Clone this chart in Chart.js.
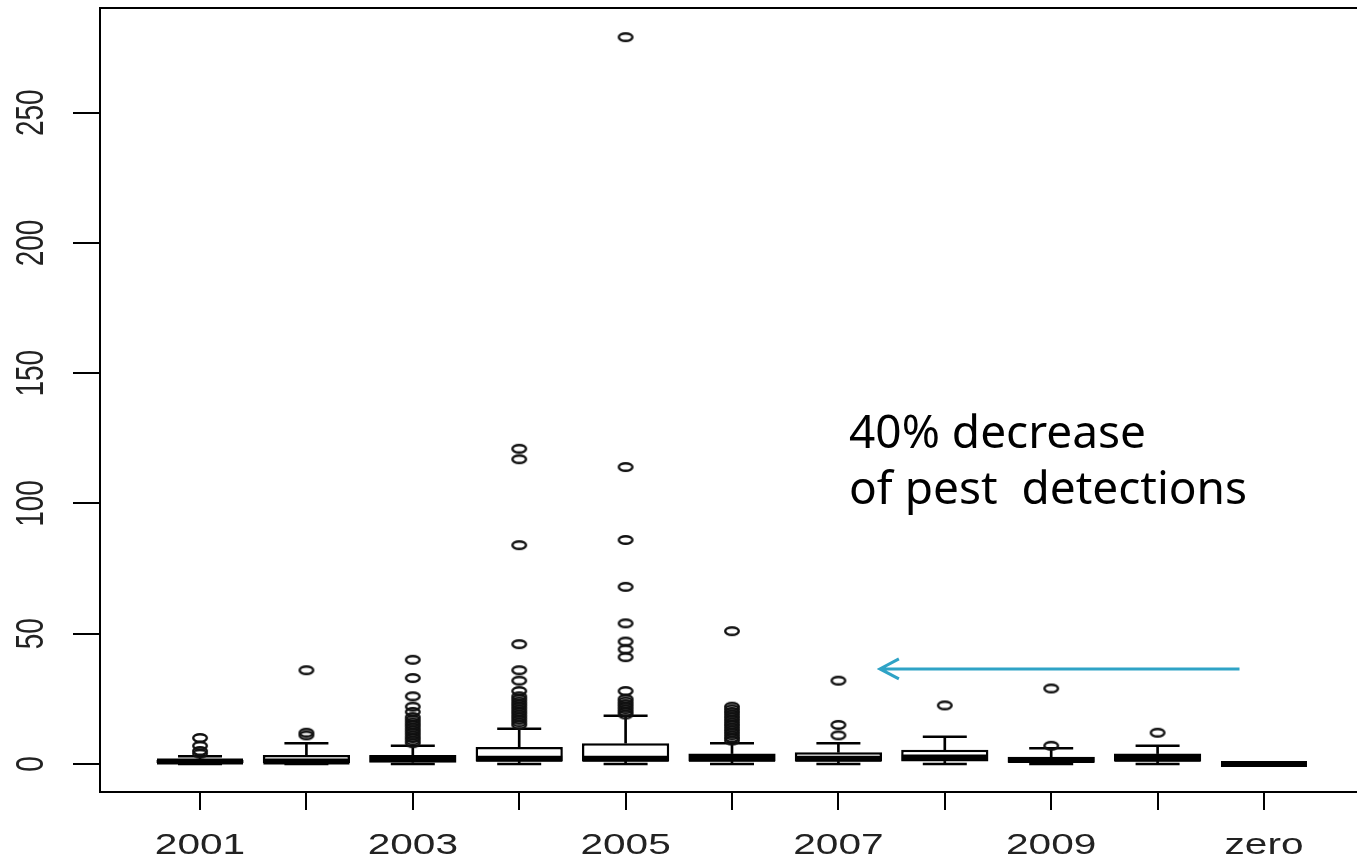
<!DOCTYPE html>
<html>
<head>
<meta charset="utf-8">
<title>Pest detections</title>
<script src="https://cdn.jsdelivr.net/npm/chart.js@4.4.1/dist/chart.umd.min.js"></script>
<style>
  html, body { margin: 0; padding: 0; background: #fff; overflow: hidden; }
  #wrap { width: 1372px; height: 859px; }
</style>
</head>
<body>
<div id="wrap"><canvas id="grafico" width="1372" height="859"></canvas></div>
<script>
const years = ['2001', '2002', '2003', '2004', '2005', '2006', '2007', '2008', '2009', '2010', 'zero'];
const q1 = [0, 0, 0.5, 1, 1, 1, 1, 1, 0.5, 1, 0];
const medians = [1, 1, 2, 2, 2, 2, 2, 2.5, 1.5, 2, 0];
const q3 = [1.5, 3.5, 3.5, 6.5, 8, 4, 4.5, 5.5, 2.8, 4, 0];
const whiskerLo = [0, 0, 0, 0, 0, 0, 0, 0, 0, 0, 0];
const whiskerHi = [3, 8, 7, 13.5, 18.5, 8, 8, 10.5, 6, 7, 0];
const outliers = [
    [4, 5, 7, 10],
    [11, 12, 36],
    [8, 9, 10, 11, 12, 13, 14, 15, 16, 17, 18, 20, 22, 26, 33, 40],
    [15, 16, 17, 18, 19, 20, 21, 22, 23, 24, 25, 26, 28, 32, 36, 46, 84, 117, 121],
    [19, 20, 21, 22, 23, 24, 25, 28, 41, 44, 47, 54, 68, 86, 114, 279],
    [9, 10, 11, 12, 13, 14, 15, 16, 17, 18, 19, 20, 21, 22, 51],
    [11, 15, 32],
    [22.5],
    [7, 29],
    [12],
    []
];
const yTicks = [0, 50, 100, 150, 200, 250];

// nota y flecha
const noteLines = ['40% decrease', 'of pest  detections'];
const notePos = { x: 7.1, y: 121.3 };
const arrowX = [10.77, 7.39];
const arrowY = 36.5;

// circulo achatado para los atipicos (la imagen original esta estirada)
const circulo = document.createElement('canvas');
circulo.width = 20;
circulo.height = 14;
const cc = circulo.getContext('2d');
cc.strokeStyle = '#111';
cc.lineWidth = 2.4;
cc.beginPath();
cc.ellipse(10, 7, 6.8, 3.8, 0, 0, Math.PI * 2);
cc.stroke();

const pos = i => i + 1;

const boxData = years.map((c, i) => ({ x: pos(i), y: [q1[i], q3[i]] }));
const stemHiData = years.map((c, i) => ({ x: pos(i), y: [q3[i], whiskerHi[i]] }));
const stemLoData = years.map((c, i) => ({ x: pos(i), y: [whiskerLo[i], q1[i]] }));
const medianData = years.map((c, i) => ({ x: pos(i), y: medians[i] }));
const capData = [];
years.forEach((c, i) => {
    capData.push({ x: pos(i), y: whiskerHi[i] });
    capData.push({ x: pos(i), y: whiskerLo[i] });
});
const outlierData = [];
outliers.forEach((lista, i) => {
    lista.forEach(v => outlierData.push({ x: pos(i), y: v }));
});

// marco, etiquetas de ejes, nota y flecha
const extras = {
    id: 'extras',
    afterDraw(chart) {
        const ctx = chart.ctx;
        const area = chart.chartArea;
        const xs = chart.scales.x;
        const ys = chart.scales.y;

        ctx.save();
        ctx.strokeStyle = '#000';
        ctx.lineWidth = 2;
        ctx.strokeRect(area.left, area.top, area.right - area.left, area.bottom - area.top);

        // etiquetas del eje x (una si, una no, como en R)
        ctx.fillStyle = '#222';
        ctx.font = '29px "Liberation Sans", Arial, sans-serif';
        ctx.textAlign = 'center';
        ctx.textBaseline = 'alphabetic';
        years.forEach((c, i) => {
            if (i % 2 !== 0) return;
            ctx.save();
            ctx.translate(xs.getPixelForValue(pos(i)), 853.5);
            ctx.scale(1.4, 1);
            ctx.fillText(c, 0, 0);
            ctx.restore();
        });

        // etiquetas del eje y, giradas
        ctx.font = '28px "Liberation Sans", Arial, sans-serif';
        yTicks.forEach(v => {
            ctx.save();
            ctx.translate(29, ys.getPixelForValue(v));
            ctx.rotate(-Math.PI / 2);
            ctx.scale(1, 1.4);
            ctx.fillText(String(v), 0, 10);
            ctx.restore();
        });

        // texto de la nota
        ctx.fillStyle = '#000';
        ctx.font = '46px "Noto Sans", sans-serif';
        ctx.textAlign = 'left';
        const nx = xs.getPixelForValue(notePos.x);
        const ny = ys.getPixelForValue(notePos.y);
        noteLines.forEach((t, k) => ctx.fillText(t, nx, ny + k * 56));

        // flecha
        const x0 = xs.getPixelForValue(arrowX[0]);
        const x1 = xs.getPixelForValue(arrowX[1]);
        const ay = ys.getPixelForValue(arrowY);
        ctx.strokeStyle = '#2fa3c6';
        ctx.lineWidth = 3;
        ctx.beginPath();
        ctx.moveTo(x0, ay);
        ctx.lineTo(x1, ay);
        ctx.moveTo(x1 + 19, ay - 10);
        ctx.lineTo(x1, ay);
        ctx.lineTo(x1 + 19, ay + 10);
        ctx.stroke();
        ctx.restore();
    }
};

new Chart(document.getElementById('grafico'), {
    type: 'bar',
    data: {
        datasets: [
            {
                type: 'scatter',
                label: 'outliers',
                data: outlierData,
                pointStyle: circulo,
                pointRadius: 7,
                pointHoverRadius: 7
            },
            {
                type: 'scatter',
                label: 'median',
                data: medianData,
                pointStyle: 'line',
                pointRadius: 43,
                pointHoverRadius: 43,
                borderColor: '#000',
                borderWidth: 6,
                pointHoverBorderWidth: 6
            },
            {
                type: 'scatter',
                label: 'caps',
                data: capData,
                pointStyle: 'line',
                pointRadius: 22,
                pointHoverRadius: 22,
                borderColor: '#000',
                borderWidth: 2.5,
                pointHoverBorderWidth: 2.5
            },
            {
                type: 'bar',
                label: 'box',
                data: boxData,
                backgroundColor: '#fff',
                borderColor: '#000',
                borderWidth: 2.5,
                borderSkipped: false,
                grouped: false,
                barPercentage: 0.82,
                categoryPercentage: 1
            },
            {
                type: 'bar',
                label: 'whisker',
                data: stemHiData,
                backgroundColor: '#000',
                barThickness: 2,
                grouped: false
            },
            {
                type: 'bar',
                label: 'whisker low',
                data: stemLoData,
                backgroundColor: '#000',
                barThickness: 2,
                grouped: false
            }
        ]
    },
    options: {
        responsive: false,
        animation: false,
        events: [],
        layout: { autoPadding: false, padding: { left: 73, top: 8, right: 8, bottom: 49 } },
        plugins: {
            legend: { display: false },
            tooltip: { enabled: false }
        },
        scales: {
            x: {
                type: 'linear',
                min: 0.06,
                max: 11.94,
                offset: false,
                grid: { offset: false, drawOnChartArea: false, drawTicks: true, tickLength: 18, color: '#000', lineWidth: 2 },
                border: { display: false },
                ticks: { display: false },
                afterBuildTicks: s => { s.ticks = years.map((c, i) => ({ value: pos(i) })); }
            },
            y: {
                type: 'linear',
                min: -10.75,
                max: 290.2,
                grid: { drawOnChartArea: false, drawTicks: true, tickLength: 27, color: '#000', lineWidth: 2 },
                border: { display: false },
                ticks: { display: false },
                afterBuildTicks: s => { s.ticks = yTicks.map(v => ({ value: v })); }
            }
        }
    },
    plugins: [extras]
});
</script>
</body>
</html>
